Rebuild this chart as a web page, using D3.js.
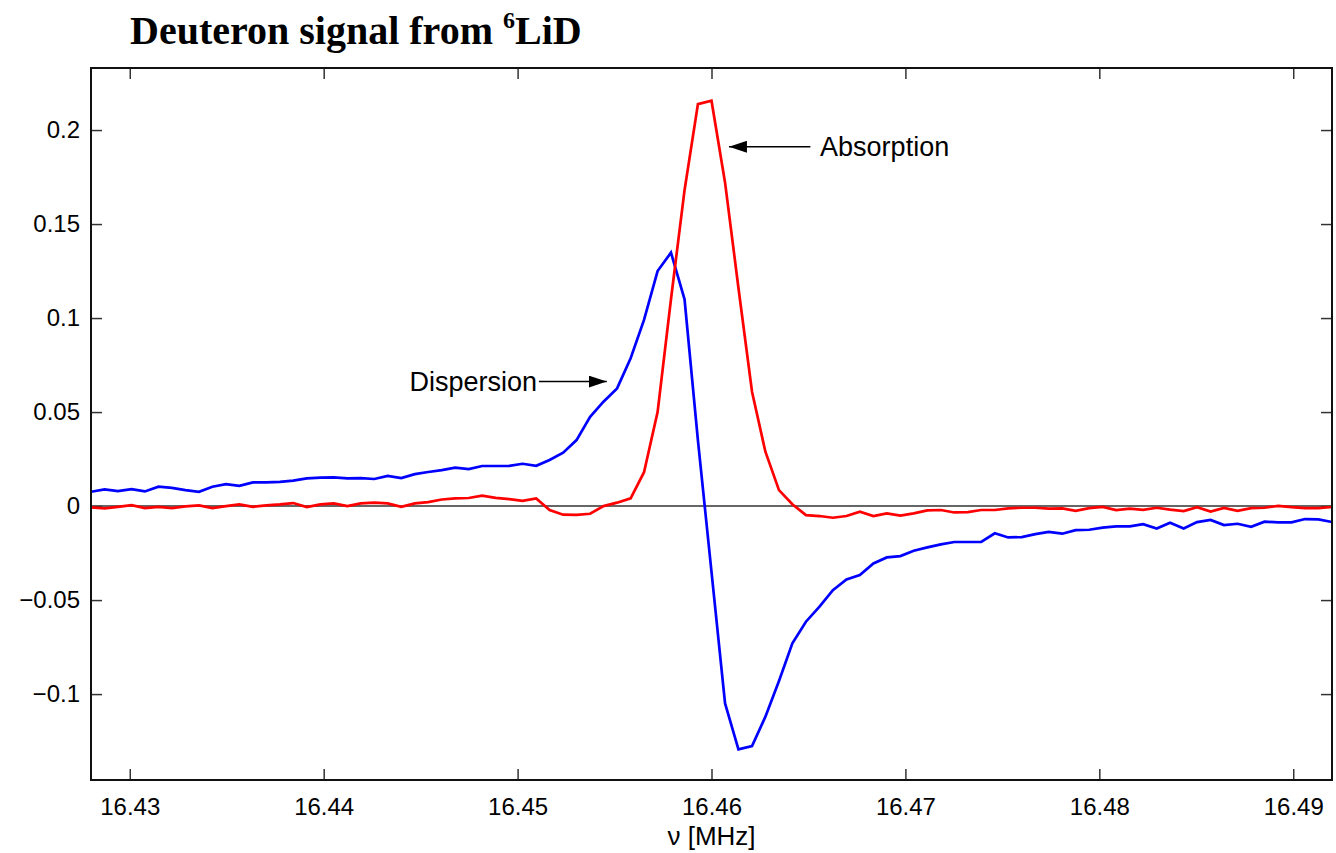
<!DOCTYPE html>
<html>
<head>
<meta charset="utf-8">
<script src="https://cdn.jsdelivr.net/npm/d3@7"></script>
<style>
  html, body { margin: 0; padding: 0; background: #fff; }
  svg { display: block; }
  .tick text { font-family: "Liberation Sans", Arial, sans-serif; font-size: 24px; fill: #000; }
  .tick line { stroke: #333; stroke-width: 1.5; }
</style>
</head>
<body>
<svg id="chart" width="1336" height="853"></svg>
<script>
// Swept RF frequency of each sample, MHz
const freqs = [
  16.42800, 16.42870, 16.42939, 16.43009, 16.43078, 16.43148, 16.43217, 16.43287, 16.43357, 16.43426,
  16.43496, 16.43565, 16.43635, 16.43704, 16.43774, 16.43843, 16.43913, 16.43983, 16.44052, 16.44122,
  16.44191, 16.44261, 16.44330, 16.44400, 16.44470, 16.44539, 16.44609, 16.44678, 16.44748, 16.44817,
  16.44887, 16.44957, 16.45026, 16.45096, 16.45165, 16.45235, 16.45304, 16.45374, 16.45443, 16.45513,
  16.45583, 16.45652, 16.45722, 16.45791, 16.45861, 16.45930, 16.46000, 16.46070, 16.46139, 16.46209,
  16.46278, 16.46348, 16.46417, 16.46487, 16.46557, 16.46626, 16.46696, 16.46765, 16.46835, 16.46904,
  16.46974, 16.47043, 16.47113, 16.47183, 16.47252, 16.47322, 16.47391, 16.47461, 16.47530, 16.47600,
  16.47670, 16.47739, 16.47809, 16.47878, 16.47948, 16.48017, 16.48087, 16.48157, 16.48226, 16.48296,
  16.48365, 16.48435, 16.48504, 16.48574, 16.48643, 16.48713, 16.48783, 16.48852, 16.48922, 16.48991,
  16.49061, 16.49130, 16.49200
];

// Dispersion signal (blue)
const dispersion = [
  0.0076, 0.0089, 0.0080, 0.0090, 0.0078, 0.0103, 0.0097, 0.0085, 0.0076, 0.0103,
  0.0117, 0.0108, 0.0126, 0.0126, 0.0129, 0.0135, 0.0147, 0.0151, 0.0153, 0.0147,
  0.0149, 0.0144, 0.0160, 0.0149, 0.0170, 0.0181, 0.0191, 0.0204, 0.0197, 0.0213,
  0.0213, 0.0214, 0.0225, 0.0214, 0.0245, 0.0284, 0.0351, 0.0475, 0.0555, 0.0626,
  0.0786, 0.0990, 0.1250, 0.1348, 0.1100, 0.0350, -0.0350, -0.1050, -0.1294, -0.1277,
  -0.1120, -0.0930, -0.0730, -0.0615, -0.0535, -0.0447, -0.0390, -0.0367, -0.0305, -0.0273,
  -0.0266, -0.0238, -0.0220, -0.0204, -0.0191, -0.0191, -0.0191, -0.0145, -0.0167, -0.0165,
  -0.0149, -0.0137, -0.0147, -0.0128, -0.0126, -0.0115, -0.0108, -0.0108, -0.0096, -0.0119,
  -0.0089, -0.0119, -0.0085, -0.0074, -0.0101, -0.0094, -0.0110, -0.0083, -0.0087, -0.0087,
  -0.0069, -0.0071, -0.0085
];

// Absorption signal (red)
const absorption = [
  -0.0007, -0.0012, -0.0004, 0.0005, -0.0011, -0.0004, -0.0011, -0.0002, 0.0004, -0.0011,
  0.0000, 0.0009, -0.0004, 0.0004, 0.0009, 0.0016, -0.0005, 0.0009, 0.0014, 0.0000,
  0.0014, 0.0018, 0.0014, -0.0004, 0.0014, 0.0021, 0.0035, 0.0041, 0.0043, 0.0055,
  0.0044, 0.0037, 0.0028, 0.0041, -0.0021, -0.0046, -0.0047, -0.0041, 0.0000, 0.0018,
  0.0041, 0.0180, 0.0500, 0.1100, 0.1680, 0.2138, 0.2156, 0.1720, 0.1160, 0.0608,
  0.0289, 0.0085, 0.0010, -0.0048, -0.0053, -0.0062, -0.0053, -0.0030, -0.0053, -0.0039,
  -0.0051, -0.0039, -0.0023, -0.0021, -0.0034, -0.0032, -0.0021, -0.0021, -0.0012, -0.0009,
  -0.0009, -0.0014, -0.0012, -0.0025, -0.0011, -0.0004, -0.0021, -0.0014, -0.0020, -0.0009,
  -0.0019, -0.0027, -0.0006, -0.0029, -0.0010, -0.0025, -0.0011, -0.0009, 0.0001, -0.0006,
  -0.0011, -0.0011, -0.0005
];

const xTicks = [16.43, 16.44, 16.45, 16.46, 16.47, 16.48, 16.49];
const xTickLabels = ["16.43", "16.44", "16.45", "16.46", "16.47", "16.48", "16.49"];
const yTicks = [-0.1, -0.05, 0, 0.05, 0.1, 0.15, 0.2];
const yTickLabels = ["\u22120.1", "\u22120.05", "0", "0.05", "0.1", "0.15", "0.2"];

const xDomain = [16.428, 16.492];
const yDomain = [-0.1457, 0.233];

// Annotation anchors, in data units
const absorptionNote = { text: "Absorption", tx: 16.4656, from: 16.4651, to: 16.4609, y: 0.1911 };
const dispersionNote = { text: "Dispersion", tx: 16.4510, from: 16.4511, to: 16.4546, y: 0.0662 };

const plot = { left: 91, right: 1332, top: 68, bottom: 780 };

const svg = d3.select("#chart");

const x = d3.scaleLinear().domain(xDomain).range([plot.left, plot.right]);
const y = d3.scaleLinear().domain(yDomain).range([plot.bottom, plot.top]);

svg.append("defs").append("clipPath").attr("id", "plot-clip")
  .append("rect")
  .attr("x", plot.left).attr("y", plot.top)
  .attr("width", plot.right - plot.left).attr("height", plot.bottom - plot.top);

svg.append("defs").append("marker")
  .attr("id", "arrowhead")
  .attr("markerUnits", "userSpaceOnUse")
  .attr("viewBox", "0 0 18 12")
  .attr("refX", 18).attr("refY", 6)
  .attr("markerWidth", 18).attr("markerHeight", 12)
  .attr("orient", "auto")
  .append("path")
  .attr("d", "M0,0 L18,6 L0,12 Z")
  .attr("fill", "#000");

// Axes: ticks point inward on all four sides; labels on bottom and left only
const bottomAxis = d3.axisBottom(x).tickValues(xTicks)
  .tickFormat((d, i) => xTickLabels[i]).tickSizeInner(-11).tickSizeOuter(0).tickPadding(18);
const topAxis = d3.axisTop(x).tickValues(xTicks)
  .tickFormat("").tickSizeInner(-11).tickSizeOuter(0);
const leftAxis = d3.axisLeft(y).tickValues(yTicks)
  .tickFormat((d, i) => yTickLabels[i]).tickSizeInner(-11).tickSizeOuter(0).tickPadding(11);
const rightAxis = d3.axisRight(y).tickValues(yTicks)
  .tickFormat("").tickSizeInner(-11).tickSizeOuter(0);

function drawAxis(gen, tx, ty) {
  const g = svg.append("g").attr("transform", `translate(${tx},${ty})`).call(gen);
  g.select(".domain").remove();
  return g;
}
drawAxis(bottomAxis, 0, plot.bottom);
drawAxis(topAxis, 0, plot.top);
drawAxis(leftAxis, plot.left, 0);
drawAxis(rightAxis, plot.right, 0);

const body = svg.append("g").attr("clip-path", "url(#plot-clip)");

// Zero reference line
body.append("line")
  .attr("x1", plot.left).attr("x2", plot.right)
  .attr("y1", y(0)).attr("y2", y(0))
  .attr("stroke", "#333").attr("stroke-width", 1.6);

const line = d3.line().x((d, i) => x(freqs[i])).y(d => y(d));

body.append("path").datum(dispersion)
  .attr("d", line).attr("fill", "none")
  .attr("stroke", "#0000ff").attr("stroke-width", 2.7).attr("stroke-linejoin", "miter");

body.append("path").datum(absorption)
  .attr("d", line).attr("fill", "none")
  .attr("stroke", "#ff0000").attr("stroke-width", 2.7).attr("stroke-linejoin", "miter");

// Axes box
svg.append("rect")
  .attr("x", plot.left).attr("y", plot.top)
  .attr("width", plot.right - plot.left).attr("height", plot.bottom - plot.top)
  .attr("fill", "none").attr("stroke", "#111").attr("stroke-width", 2);

// Annotations
const noteFont = "\"Liberation Sans\", Arial, sans-serif";
[absorptionNote, dispersionNote].forEach((n, k) => {
  svg.append("line")
    .attr("x1", x(n.from)).attr("x2", x(n.to))
    .attr("y1", y(n.y)).attr("y2", y(n.y))
    .attr("stroke", "#000").attr("stroke-width", 1.5)
    .attr("marker-end", "url(#arrowhead)");
  svg.append("text")
    .attr("x", x(n.tx)).attr("y", y(n.y))
    .attr("dy", "0.36em")
    .attr("text-anchor", k === 0 ? "start" : "end")
    .attr("font-family", noteFont).attr("font-size", 27)
    .text(n.text);
});

// Axis title
svg.append("text")
  .attr("x", (plot.left + plot.right) / 2).attr("y", 845)
  .attr("text-anchor", "middle")
  .attr("font-family", noteFont).attr("font-size", 26)
  .text("\u03bd [MHz]");

// Chart title with isotope superscript
const title = svg.append("text")
  .attr("x", 130).attr("y", 44)
  .attr("font-family", "\"Liberation Serif\", \"Times New Roman\", serif")
  .attr("font-weight", "bold").attr("font-size", 40);
title.append("tspan").text("Deuteron signal from ");
title.append("tspan").attr("font-size", 24).attr("dy", -16).text("6");
title.append("tspan").attr("font-size", 40).attr("dy", 16).text("LiD");
</script>
</body>
</html>
